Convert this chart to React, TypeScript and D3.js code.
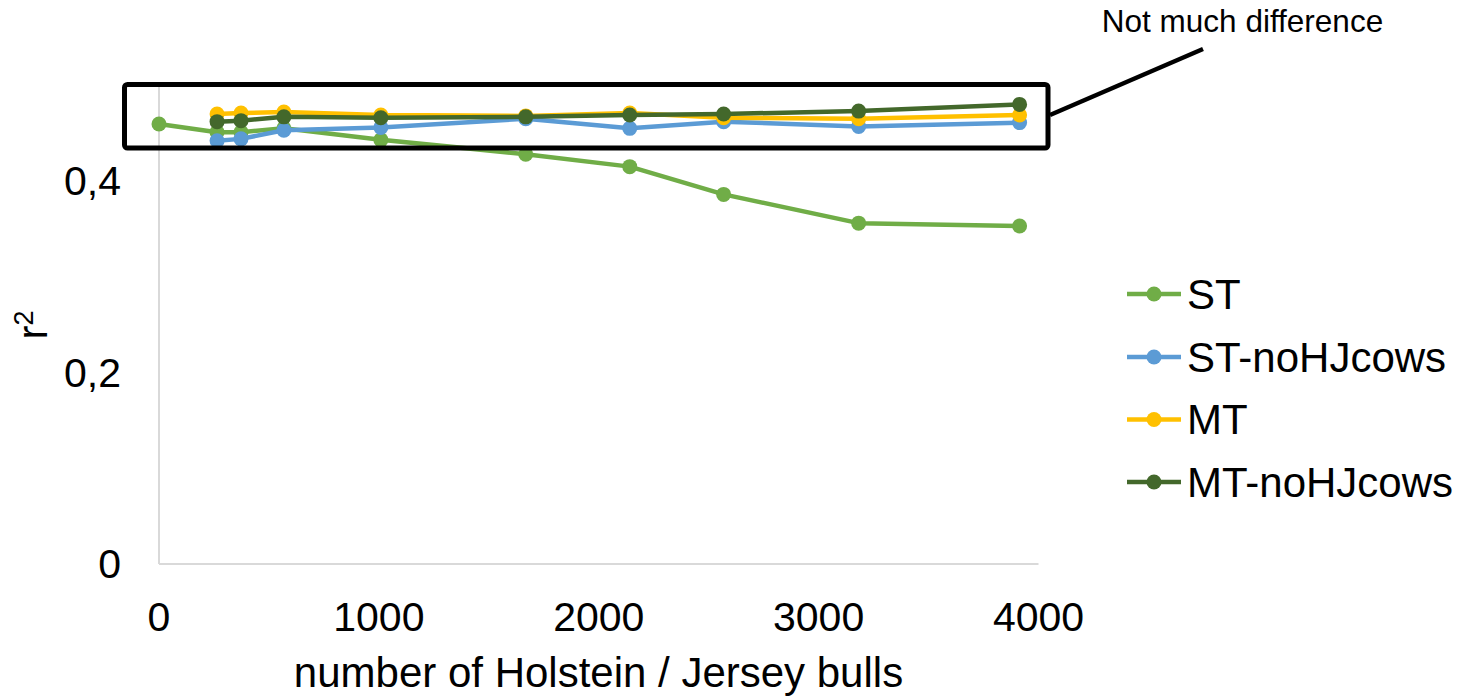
import React from "react";
import * as d3 from "d3";

const bulls = [0, 264, 373, 568, 1009, 1668, 2141, 2568, 3182, 3914];
const seriesNames = ["ST", "ST-noHJcows", "MT", "MT-noHJcows"];
const stValues = [0.4595, 0.451, 0.451, 0.455, 0.443, 0.428, 0.415, 0.386, 0.356, 0.353];
const stNoHJValues = [null, 0.442, 0.444, 0.453, 0.456, 0.465, 0.455, 0.462, 0.457, 0.461];
const mtValues = [null, 0.47, 0.471, 0.472, 0.469, 0.468, 0.471, 0.466, 0.465, 0.469];
const mtNoHJValues = [null, 0.462, 0.463, 0.467, 0.466, 0.467, 0.469, 0.47, 0.473, 0.48];
const xTicks = [0, 1000, 2000, 3000, 4000];
const yTicks = [0, 0.2, 0.4];
const yTickLabels = ["0", "0,2", "0,4"];
const colors = ["#70AD47", "#5B9BD5", "#FFC000", "#43682B"];

const FONT = "'Liberation Sans', Arial, Helvetica, sans-serif";

export default function App() {
  const W = 1466;
  const H = 696;
  const x = d3.scaleLinear().domain([0, 4000]).range([159, 1038.5]);
  const y = d3.scaleLinear().domain([0, 0.5]).range([564, 85.25]);
  const all = [stValues, stNoHJValues, mtValues, mtNoHJValues];

  const line = d3
    .line<[number, number | null]>()
    .defined((d) => d[1] !== null)
    .x((d) => x(d[0]))
    .y((d) => y(d[1] as number));

  const legendY = [294, 357, 419.5, 482];

  return (
    <svg
      width={W}
      height={H}
      style={{ position: "absolute", left: 0, top: 0, background: "#fff" }}
      fontFamily={FONT}
    >
      {/* axes */}
      <line x1={x(0)} x2={x(0)} y1={y(0)} y2={y(0.5)} stroke="#D9D9D9" strokeWidth={2} />
      <line x1={x(0)} x2={x(4000)} y1={y(0)} y2={y(0)} stroke="#D9D9D9" strokeWidth={2} />

      {xTicks.map((t) => (
        <text key={t} x={x(t)} y={631} textAnchor="middle" fontSize={41} fill="#000">
          {t}
        </text>
      ))}
      {yTicks.map((t, i) => (
        <text key={t} x={121} y={y(t)} dy="0.35em" textAnchor="end" fontSize={41} fill="#000">
          {yTickLabels[i]}
        </text>
      ))}

      <text x={598.5} y={687} textAnchor="middle" fontSize={42} fill="#000">
        number of Holstein / Jersey bulls
      </text>
      <text transform="translate(47,325) rotate(-90)" textAnchor="middle" fontSize={42} fill="#000">
        r<tspan dy={-14} fontSize={27}>2</tspan>
      </text>

      {/* series */}
      {all.map((vals, si) => {
        const pts = bulls.map((b, i) => [b, vals[i]] as [number, number | null]);
        return (
          <g key={si}>
            <path d={line(pts) || ""} fill="none" stroke={colors[si]} strokeWidth={4.5} strokeLinejoin="round" />
            {pts
              .filter((p) => p[1] !== null)
              .map((p, i) => (
                <circle key={i} cx={x(p[0])} cy={y(p[1] as number)} r={7.5} fill={colors[si]} />
              ))}
          </g>
        );
      })}

      {/* annotation box */}
      <rect x={124.5} y={84.5} width={923.5} height={63.5} rx={3} fill="none" stroke="#000" strokeWidth={5} />
      <line x1={1050} y1={115} x2={1203} y2={49} stroke="#000" strokeWidth={4.5} />
      <text x={1242.5} y={32} textAnchor="middle" fontSize={31.5} fill="#000">
        Not much difference
      </text>

      {/* legend */}
      {seriesNames.map((name, i) => (
        <g key={name}>
          <line x1={1127} x2={1181} y1={legendY[i]} y2={legendY[i]} stroke={colors[i]} strokeWidth={4.5} />
          <circle cx={1154} cy={legendY[i]} r={7.5} fill={colors[i]} />
          <text x={1187} y={legendY[i]} dy="0.35em" fontSize={42} fill="#000">
            {name}
          </text>
        </g>
      ))}
    </svg>
  );
}
